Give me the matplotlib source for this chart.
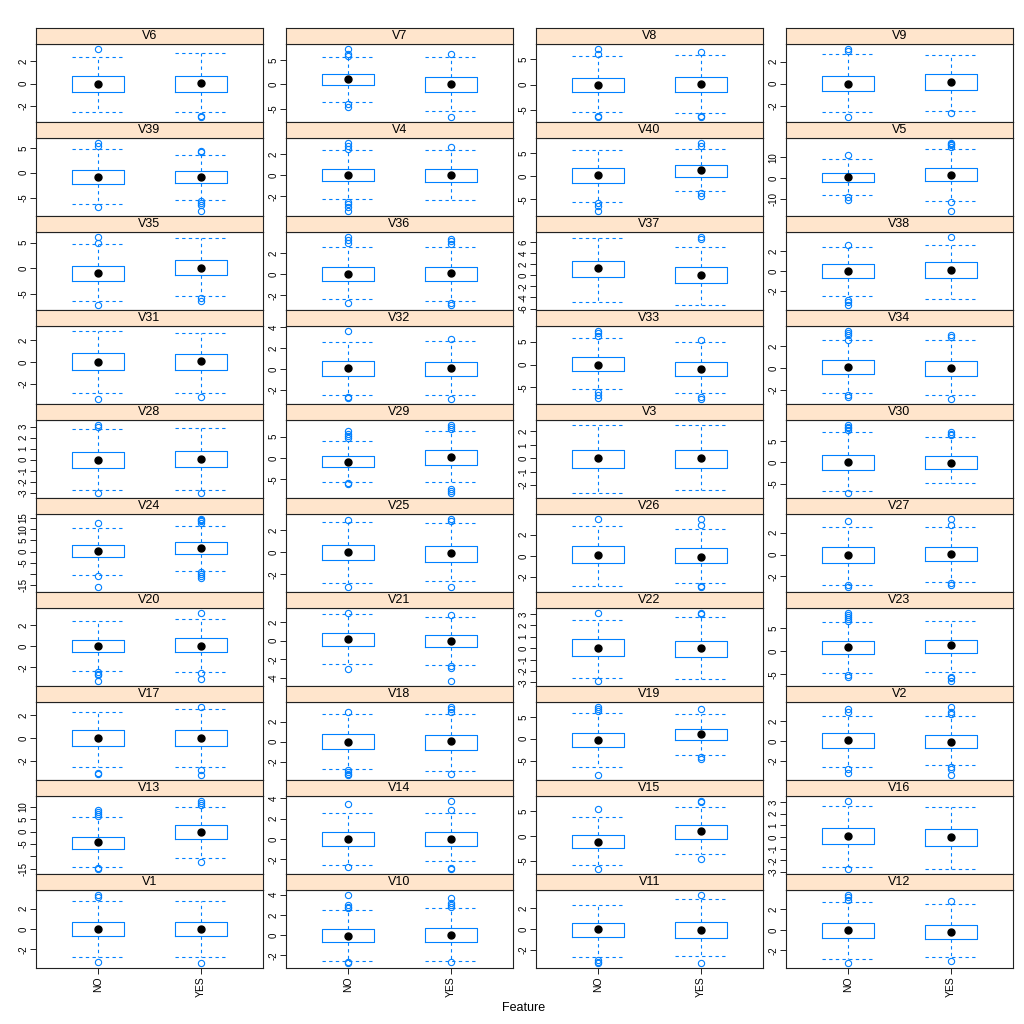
import matplotlib
matplotlib.use("Agg")
import matplotlib.pyplot as plt
from matplotlib.ticker import MultipleLocator

plt.rcParams["font.family"] = ["Liberation Sans", "DejaVu Sans"]
plt.rcParams["axes.unicode_minus"] = False

panels = ["V6", "V7", "V8", "V9", "V39", "V4", "V40", "V5",
          "V35", "V36", "V37", "V38", "V31", "V32", "V33", "V34",
          "V28", "V29", "V3", "V30", "V24", "V25", "V26", "V27",
          "V20", "V21", "V22", "V23", "V17", "V18", "V19", "V2",
          "V13", "V14", "V15", "V16", "V1", "V10", "V11", "V12"]
groups = ["NO", "YES"]

# (NO, YES) per panel
whislo = [(-2.55, -2.55), (-3.65, -5.4), (-5.45, -5.7), (-2.57, -2.45),
          (-6.3, -5.4), (-2.27, -2.33), (-5.5, -3.24), (-8.4, -11.3),
          (-6.4, -5.5), (-2.37, -2.55), (-4.83, -5.4), (-2.44, -2.78),
          (-2.8, -2.8), (-2.48, -2.54), (-5.3, -6.29), (-2.36, -2.48),
          (-2.76, -2.76), (-5.67, -5.67), (-2.6, -2.35), (-6.6, -4.85),
          (-10.4, -8.7), (-2.8, -2.63), (-2.86, -2.54), (-2.75, -2.51),
          (-2.31, -2.44), (-2.5, -2.57), (-2.6, -2.66), (-4.7, -4.4),
          (-2.53, -2.53), (-2.73, -2.93), (-6.57, -3.73), (-2.64, -2.44),
          (-14.2, -10.6), (-2.58, -2.13), (-5.92, -3.68), (-2.59, -2.7),
          (-2.79, -2.79), (-2.58, -2.58), (-2.62, -2.56), (-2.86, -2.6)]
q1 = [(-0.74, -0.71), (-0.2, -1.49), (-1.56, -1.5), (-0.69, -0.57),
      (-2.24, -1.97), (-0.6, -0.66), (-1.41, -0.14), (-1.94, -1.6),
      (-2.56, -1.28), (-0.65, -0.65), (-0.41, -1.45), (-0.68, -0.68),
      (-0.69, -0.75), (-0.7, -0.7), (-1.43, -2.43), (-0.55, -0.79),
      (-0.76, -0.71), (-2.09, -1.64), (-0.7, -0.75), (-1.85, -1.54),
      (-2.43, -1.0), (-0.72, -0.84), (-0.7, -0.7), (-0.78, -0.6),
      (-0.56, -0.56), (-0.57, -0.71), (-0.66, -0.77), (-0.69, -0.41),
      (-0.71, -0.71), (-0.73, -0.87), (-1.94, -0.3), (-0.68, -0.75),
      (-7.2, -3.1), (-0.71, -0.71), (-2.37, -0.53), (-0.62, -0.79),
      (-0.7, -0.7), (-0.71, -0.71), (-0.69, -0.81), (-0.76, -0.89)]
med = [(0.0, 0.09), (1.08, 0.0), (-0.15, 0.1), (0.0, 0.12),
       (-0.79, -0.79), (0.0, 0.0), (0.28, 1.27), (0.32, 1.6),
       (-1.03, 0.0), (0.0, 0.09), (1.22, 0.06), (0.0, 0.1),
       (0.03, 0.09), (0.06, 0.06), (0.0, -1.0), (0.06, 0.0),
       (0.0, 0.06), (-0.9, 0.3), (0.0, 0.0), (0.0, -0.15),
       (0.43, 1.57), (0.0, -0.06), (0.06, -0.06), (-0.06, 0.06),
       (0.0, 0.06), (0.14, 0.0), (0.0, 0.03), (0.83, 1.24),
       (0.0, 0.0), (0.0, 0.07), (-0.3, 1.04), (0.07, -0.14),
       (-4.4, -0.26), (0.0, 0.0), (-1.18, 0.92), (0.06, 0.0),
       (0.0, 0.0), (-0.06, 0.0), (0.0, -0.06), (0.0, -0.19)]
q3 = [(0.71, 0.68), (2.16, 1.55), (1.36, 1.5), (0.69, 0.84),
      (0.53, 0.26), (0.54, 0.54), (1.69, 2.39), (2.58, 4.84),
      (0.38, 1.54), (0.71, 0.71), (2.62, 1.57), (0.68, 0.88),
      (0.87, 0.75), (0.76, 0.7), (1.57, 0.57), (0.73, 0.6),
      (0.71, 0.76), (0.45, 1.79), (0.65, 0.65), (1.85, 1.54),
      (3.14, 4.3), (0.66, 0.6), (0.89, 0.7), (0.66, 0.72),
      (0.62, 0.75), (0.86, 0.64), (0.77, 0.66), (2.2, 2.48),
      (0.71, 0.71), (0.73, 0.67), (1.19, 2.24), (0.75, 0.54),
      (-2.06, 2.58), (0.65, 0.65), (0.13, 2.24), (0.73, 0.68),
      (0.7, 0.7), (0.58, 0.71), (0.62, 0.69), (0.7, 0.51)]
whishi = [(2.37, 2.73), (5.54, 5.68), (5.7, 5.85), (2.69, 2.63),
          (4.74, 3.68), (2.33, 2.39), (5.63, 5.9), (9.0, 14.2),
          (4.74, 5.9), (2.55, 2.55), (6.69, 5.06), (2.44, 2.64),
          (2.86, 2.68), (2.6, 2.67), (5.86, 4.86), (2.55, 2.55),
          (2.82, 2.88), (3.88, 6.42), (2.5, 2.5), (7.08, 5.85),
          (10.4, 11.3), (2.75, 2.69), (2.8, 2.54), (2.57, 2.51),
          (2.37, 2.56), (2.86, 2.57), (2.43, 2.71), (6.2, 6.6),
          (2.29, 2.59), (2.8, 2.8), (5.97, 5.67), (2.51, 2.44),
          (5.67, 9.8), (2.58, 2.52), (3.82, 5.92), (2.65, 2.54),
          (2.73, 2.73), (2.52, 2.7), (2.37, 2.87), (2.73, 2.54)]
fliers_no = [[3.14], [7.3, 6.2, 5.9, -4.1, -4.7], [7.1, 6.1, -6.2, -6.5], [3.16, 2.93, -3.04],
             [6.05, 5.5, -6.97], [3.04, 2.75, 2.5, -2.5, -2.75, -3.0, -3.4], [-5.9, -6.5, -7.6], [10.97, -9.35, -10.6],
             [6.15, 5.0, -7.3], [3.54, 3.23, 2.92, -2.68], [], [2.64, -2.85, -3.1, -3.4],
             [-3.4], [3.68, -2.67, -2.8], [7.4, 7.0, 6.3, -6.1, -6.7, -7.3], [3.45, 3.27, 3.09, 2.6, -2.48, -2.67],
             [3.18, 3.0, -3.06], [6.27, 5.67, 5.07, 4.6, -5.9, -6.1], [], [8.8, 8.4, 8.0, 7.5, -7.2],
             [12.7, -11.0, -15.9], [2.93, -3.1], [3.5], [3.04, -2.8, -2.98],
             [-2.44, -2.62, -2.75, -3.31], [3.0, -3.07], [3.1, -2.89], [8.3, 7.9, 7.4, 7.0, 6.6, -5.1, -5.5],
             [-3.06, -3.2], [2.95, -2.87, -3.07, -3.2, -3.35], [7.3, 6.7, 6.27, -8.36], [3.19, 2.92, -2.85, -3.19],
             [8.8, 8.0, 7.2, 6.4, -14.7, -15.2], [3.42, -2.77], [5.53, -6.7], [3.1, -2.76],
             [3.37, 3.17, -3.3], [4.0, 3.03, 2.84, 2.7, -2.65, -2.77], [-2.94, -3.12, -3.25], [3.43, 3.17, 2.92, -3.24]]
fliers_yes = [[-2.9, -3.0], [6.2, -6.76], [6.4, -6.2, -6.4], [-2.66],
              [4.47, 4.1, -5.66, -6.05, -6.6, -7.76], [2.63], [7.2, 6.6, -3.66, -4.37], [17.0, 16.3, 15.7, 15.0, -11.6, -16.1],
              [-5.9, -6.4], [3.29, 3.1, 2.86, -2.68, -2.92], [6.92, 6.57], [3.42],
              [-3.16], [2.86, -2.92], [5.29, -7.0, -7.57], [3.09, 2.85, -2.9],
              [-3.0], [7.76, 7.3, 6.87, -7.16, -7.76, -8.2], [], [7.08, 6.6, 6.3],
              [14.7, 14.1, 13.6, 12.7, -9.3, -10.1, -11.0, -11.9], [3.04, 2.87, -3.16], [3.5, 2.95, -2.8, -2.95], [3.28, 2.69, -2.57, -2.8],
              [3.19, -2.5, -3.12], [2.71, -2.71, -2.93, -4.36], [3.1, 3.0], [-5.5, -5.9, -6.5],
              [2.76, -2.88, -3.3], [3.49, 3.3, 2.95, -3.2], [6.87, -4.18, -4.63], [3.4, 2.85, 2.64, -2.58, -2.78, -3.42],
              [12.4, 11.6, 10.8, -12.4], [3.74, 2.84, -2.84, -2.97], [7.1, 6.84, -4.74], [],
              [-3.37], [3.68, 3.23, 3.03, 2.84, -2.65], [3.31, -3.19], [2.79, -3.05]]
tick_step = [2, 5, 5, 2, 5, 2, 5, 10, 5, 2, 2, 2, 2, 2, 5, 2,
             1, 5, 1, 5, 5, 2, 2, 2, 2, 2, 1, 5, 2, 2, 5, 2,
             5, 2, 5, 1, 2, 2, 2, 2]

BLUE = "#0080ff"
STRIP = "#ffe5cc"


def drop_overlapping_labels(fig, ax):
    # like R's check.overlap: skip a label that would run into the one below it
    r = fig.canvas.get_renderer()
    lo, hi = ax.get_ylim()
    locs = [v for v in ax.get_yticks() if lo <= v <= hi]
    ax.set_yticks(locs, [f"{v:g}" for v in locs])
    plt.setp(ax.get_yticklabels(), va="center", rotation=90)
    fig.canvas.draw()
    labels = []
    last = None
    for v, t in zip(locs, ax.get_yticklabels()):
        bb = t.get_window_extent(r)
        if last is not None and bb.y0 < last.y1 - 0.5:
            labels.append("")
        else:
            labels.append(f"{v:g}")
            last = bb
    ax.set_yticks(locs, labels)
    plt.setp(ax.get_yticklabels(), va="center", rotation=90)


def main() -> None:
    fig = plt.figure(figsize=(10.24, 10.24), dpi=100)
    px = 1024.0
    lefts = [36, 286, 536, 786]
    width = 227
    top0, row_h, strip_h = 28, 94, 16
    axes = []

    for k, name in enumerate(panels):
        row, col = divmod(k, 4)
        s_top = top0 + row * row_h
        p_top = s_top + strip_h
        p_bot = s_top + row_h
        ax = fig.add_axes([lefts[col] / px, 1 - p_bot / px, width / px, (p_bot - p_top) / px])
        sx = fig.add_axes([lefts[col] / px, 1 - p_top / px, width / px, strip_h / px])

        sx.set_facecolor(STRIP)
        sx.set_xticks([])
        sx.set_yticks([])
        for sp in sx.spines.values():
            sp.set_linewidth(0.8)
            sp.set_color("#222222")
        sx.text(0.5, 0.47, name, ha="center", va="center", fontsize=9, transform=sx.transAxes)

        stats = []
        for j, g in enumerate(groups):
            fl = fliers_no[k] if j == 0 else fliers_yes[k]
            stats.append(dict(label=g, whislo=whislo[k][j], q1=q1[k][j], med=med[k][j],
                              q3=q3[k][j], whishi=whishi[k][j], fliers=fl))
        ax.bxp(stats, positions=[1, 2], widths=0.5, capwidths=0.5,
               boxprops=dict(color=BLUE, linewidth=0.8),
               whiskerprops=dict(color=BLUE, linewidth=0.8, linestyle=(0, (3, 3))),
               capprops=dict(color=BLUE, linewidth=0.8, linestyle=(0, (3, 3))),
               medianprops=dict(linewidth=0, alpha=0),
               flierprops=dict(marker="o", markerfacecolor="none", markeredgecolor=BLUE,
                               markersize=4.5, markeredgewidth=0.8, linestyle="none"))
        ax.plot([1, 2], med[k], "o", color="black", markersize=5)

        vals = list(whislo[k]) + list(whishi[k]) + fliers_no[k] + fliers_yes[k]
        lo, hi = min(vals), max(vals)
        pad = 0.07 * (hi - lo)
        ax.set_xlim(0.4, 2.6)
        ax.set_ylim(lo - pad, hi + pad)
        ax.yaxis.set_major_locator(MultipleLocator(tick_step[k]))
        ax.tick_params(axis="y", direction="out", length=4, width=0.6, labelsize=7, pad=1.5)

        if row == 9:
            ax.set_xticks([1, 2], groups)
            ax.tick_params(axis="x", direction="out", length=4, width=0.6, labelsize=7.5,
                           pad=2, labelrotation=90)
            plt.setp(ax.get_xticklabels(), va="top")
        else:
            ax.set_xticks([])
        for sp in ax.spines.values():
            sp.set_linewidth(0.8)
            sp.set_color("#222222")
        axes.append(ax)

    fig.canvas.draw()
    for ax in axes:
        drop_overlapping_labels(fig, ax)

    fig.text(524 / px, 1 - 1008 / px, "Feature", ha="center", va="center", fontsize=9)
    fig.savefig("out.png", dpi=100)
    plt.close(fig)


if __name__ == "__main__":
    main()
